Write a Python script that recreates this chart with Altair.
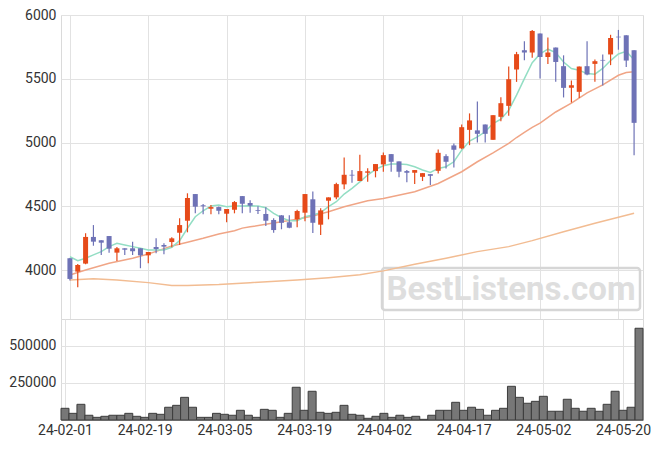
import altair as alt
import pandas as pd

dates = ['24-02-01','24-02-02','24-02-05','24-02-06','24-02-07','24-02-08','24-02-13','24-02-14','24-02-15','24-02-16',
         '24-02-19','24-02-20','24-02-21','24-02-22','24-02-23','24-02-26','24-02-27','24-02-28','24-02-29','24-03-04',
         '24-03-05','24-03-06','24-03-07','24-03-08','24-03-11','24-03-12','24-03-13','24-03-14','24-03-15','24-03-18',
         '24-03-19','24-03-20','24-03-21','24-03-22','24-03-25','24-03-26','24-03-27','24-03-28','24-03-29','24-04-01',
         '24-04-02','24-04-03','24-04-04','24-04-05','24-04-08','24-04-09','24-04-11','24-04-12','24-04-15','24-04-16',
         '24-04-17','24-04-18','24-04-19','24-04-22','24-04-23','24-04-24','24-04-25','24-04-26','24-04-29','24-04-30',
         '24-05-02','24-05-03','24-05-07','24-05-08','24-05-09','24-05-10','24-05-13','24-05-14','24-05-16','24-05-17',
         '24-05-20','24-05-21','24-05-22']

opens = [4094,3989,4052,4261,4235,4268,4138,4172,4172,4172,
         4117,4182,4198,4221,4294,4388,4597,4509,4482,4495,
         4443,4474,4581,4527,4472,4441,4394,4430,4376,4399,
         4451,4556,4357,4545,4571,4673,4748,4699,4764,4777,
         4829,4910,4853,4777,4764,4732,4753,4779,4894,4978,
         4955,5100,5096,5142,5022,5202,5288,5573,5724,5706,
         5855,5671,5745,5599,5429,5398,5599,5617,5648,5691,
         5830,5841,5724]
highs = [4096,4049,4290,4354,4235,4268,4182,4172,4224,4172,
         4143,4250,4211,4258,4407,4603,4597,4519,4511,4500,
         4480,4542,4581,4548,4501,4493,4407,4432,4430,4474,
         4597,4618,4485,4571,4686,4884,4785,4905,4800,4832,
         4923,4910,4853,4785,4785,4761,4753,4947,4908,4994,
         5142,5229,5322,5142,5215,5356,5596,5711,5794,5883,
         5855,5823,5745,5684,5487,5596,5794,5651,5690,5845,
         5883,5841,5724]
lows = [3920,3867,4047,4192,4120,4138,4073,4120,4120,4016,
        4055,4133,4125,4180,4198,4297,4446,4438,4438,4438,
        4376,4446,4446,4451,4440,4347,4294,4321,4329,4336,
        4383,4292,4276,4399,4556,4634,4686,4699,4693,4728,
        4772,4772,4728,4689,4675,4699,4667,4759,4798,4806,
        4949,4980,5001,5001,5022,5168,5210,5476,5646,5666,
        5502,5617,5476,5354,5315,5350,5528,5476,5448,5607,
        5728,5593,4902]
closes = [3932,4041,4261,4224,4216,4169,4172,4161,4149,4117,
          4143,4166,4185,4250,4354,4566,4498,4501,4495,4466,
          4480,4534,4521,4506,4466,4388,4315,4372,4333,4464,
          4597,4372,4469,4571,4675,4748,4742,4777,4775,4832,
          4902,4850,4772,4764,4785,4761,4740,4920,4850,4944,
          5121,5174,5069,5069,5215,5309,5497,5693,5706,5875,
          5671,5706,5632,5429,5450,5596,5534,5638,5643,5820,
          5825,5643,5155]
volumes = [79000,45000,106000,32000,18000,25000,32000,32000,45000,25000,
           18000,45000,38500,86000,99000,153000,86000,18000,18000,45000,
           38500,32000,65500,32000,18000,72000,65500,18000,45000,221000,
           65500,194000,52000,45000,52000,99000,38500,32000,11500,25000,
           45000,18000,32000,18000,25000,4500,32000,65500,65500,119500,
           65500,86000,72000,32000,65500,79000,227500,153000,113000,126000,
           160000,59000,59000,140000,79000,59000,79000,59000,106000,194000,
           65500,86000,619500]
ma5 = [4106,4075,4094,4120,4146,4185,4211,4198,4185,4172,
       4159,4159,4159,4180,4232,4329,4419,4466,4503,4511,
       4498,4503,4503,4505,4503,4490,4446,4412,4388,4388,
       4419,4433,4451,4498,4537,4597,4642,4693,4746,4790,
       4819,4832,4832,4829,4811,4785,4767,4798,4811,4850,
       4941,5012,5045,5085,5150,5184,5254,5372,5502,5626,
       5695,5732,5706,5632,5581,5567,5541,5536,5581,5643,
       5695,5715,5650]
ma20_i = [0,2,5,8,10,11,13,15,17,19,21,22,23,25,27,29,31,33,35,38,40,44,47,50,52,54,56,57,58,59,60,62,64,66,68,70,71,72]
ma20 = [3963,4002,4055,4094,4128,4148,4190,4219,4250,4284,4310,4330,4340,4360,4380,4399,4425,4459,4498,4545,4563,4615,4680,4772,4850,4920,4994,5040,5080,5120,5152,5240,5310,5390,5452,5528,5549,5556]
ma60_i = [0,3,6,10,13,15,19,23,29,33,37,40,44,48,52,56,59,63,67,72]
ma60 = [3924,3934,3924,3903,3880,3880,3888,3903,3924,3942,3965,3995,4047,4094,4146,4185,4232,4302,4368,4446]

tick_idx = list(range(0, 71, 10))
tick_labels = [dates[i] for i in tick_idx]
label_expr = "[" + ",".join("'%s'" % t for t in tick_labels) + "][round(datum.value / 10)]"

UP = "#E64A19"
DOWN = "#6E72B6"

df = pd.DataFrame({
    "i": list(range(len(dates))), "date": dates, "open": opens, "high": highs,
    "low": lows, "close": closes, "volume": volumes, "ma5": ma5,
})
df["dir"] = ["up" if c >= o else "down" for o, c in zip(opens, closes)]
df20 = pd.DataFrame({"i": ma20_i, "v": ma20})
df60 = pd.DataFrame({"i": ma60_i, "v": ma60})

W = 582
xs = alt.Scale(domain=[-0.5, 72.5], nice=False, zero=False)
ys = alt.Scale(domain=[3618, 6000], nice=False, zero=False)
color = alt.Color("dir:N", scale=alt.Scale(domain=["up", "down"], range=[UP, DOWN]), legend=None)

x_top = alt.X("i:Q", scale=xs, title=None,
              axis=alt.Axis(values=tick_idx, labels=False, ticks=False, domain=False, grid=True))
y_ax = alt.Axis(values=[4000, 4500, 5000, 5500, 6000], format="d", ticks=False, domain=False, grid=True, labelPadding=5)

wm_df = pd.DataFrame({"t": ["BestListens.com"]})
wm_box = alt.Chart(wm_df).mark_rect(fill="white", fillOpacity=0, stroke="#d6d6d6", strokeWidth=2.5, cornerRadius=3).encode(
    x=alt.value(321), x2=alt.value(579), y=alt.value(253), y2=alt.value(295))
wm_text = alt.Chart(wm_df).mark_text(font="Roboto", fontWeight="bold", fontSize=33, color="#dedede",
                                      align="center", baseline="middle").encode(
    x=alt.value(450), y=alt.value(275), text="t:N")

l60 = alt.Chart(df60).mark_line(color="#F2BC92", strokeWidth=1.5).encode(x=x_top, y=alt.Y("v:Q", scale=ys, title=None, axis=y_ax))
l20 = alt.Chart(df20).mark_line(color="#F0A586", strokeWidth=1.5).encode(x=x_top, y=alt.Y("v:Q", scale=ys))
l5 = alt.Chart(df).mark_line(color="#93DEC4", strokeWidth=1.5).encode(x=x_top, y=alt.Y("ma5:Q", scale=ys))

base = alt.Chart(df)
wick = base.mark_rule(strokeWidth=1.2).encode(x=x_top, y=alt.Y("low:Q", scale=ys), y2="high:Q", color=color)
body = base.mark_bar(size=5).encode(x=x_top, y=alt.Y("open:Q", scale=ys), y2="close:Q", color=color)

top = alt.layer(wm_box, wm_text, l60, l20, l5, wick, body).properties(width=W, height=304)

x_bot = alt.X("x0:Q", scale=xs, title=None,
              axis=alt.Axis(values=tick_idx, labelExpr=label_expr, ticks=False, domain=True, domainColor="#9a9a9a",
                            grid=True, labelPadding=3, labelFlush=False))
vol = base.transform_calculate(x0="datum.i - 0.5", x1="datum.i + 0.5").mark_rect(
    fill="#777777", stroke="#3c3c3c", strokeWidth=1).encode(
    x=x_bot, x2="x1:Q",
    y=alt.Y("volume:Q", scale=alt.Scale(domain=[0, 682000], nice=False), title=None,
            axis=alt.Axis(values=[250000, 500000], format="d", ticks=False, domain=False, grid=True, labelPadding=5)),
    y2=alt.datum(0),
).properties(width=W, height=101)

chart = alt.vconcat(top, vol, spacing=0, bounds="flush").properties(
    padding={"left": 8, "top": 7, "right": 5, "bottom": 5}
).configure_axis(
    labelFont="Roboto", labelFontSize=14, labelColor="#333333", gridColor="#e2e2e2", gridWidth=1
).configure_view(stroke="#dadada")

chart.save("out.html", embed_options={"renderer": "svg", "actions": False})
